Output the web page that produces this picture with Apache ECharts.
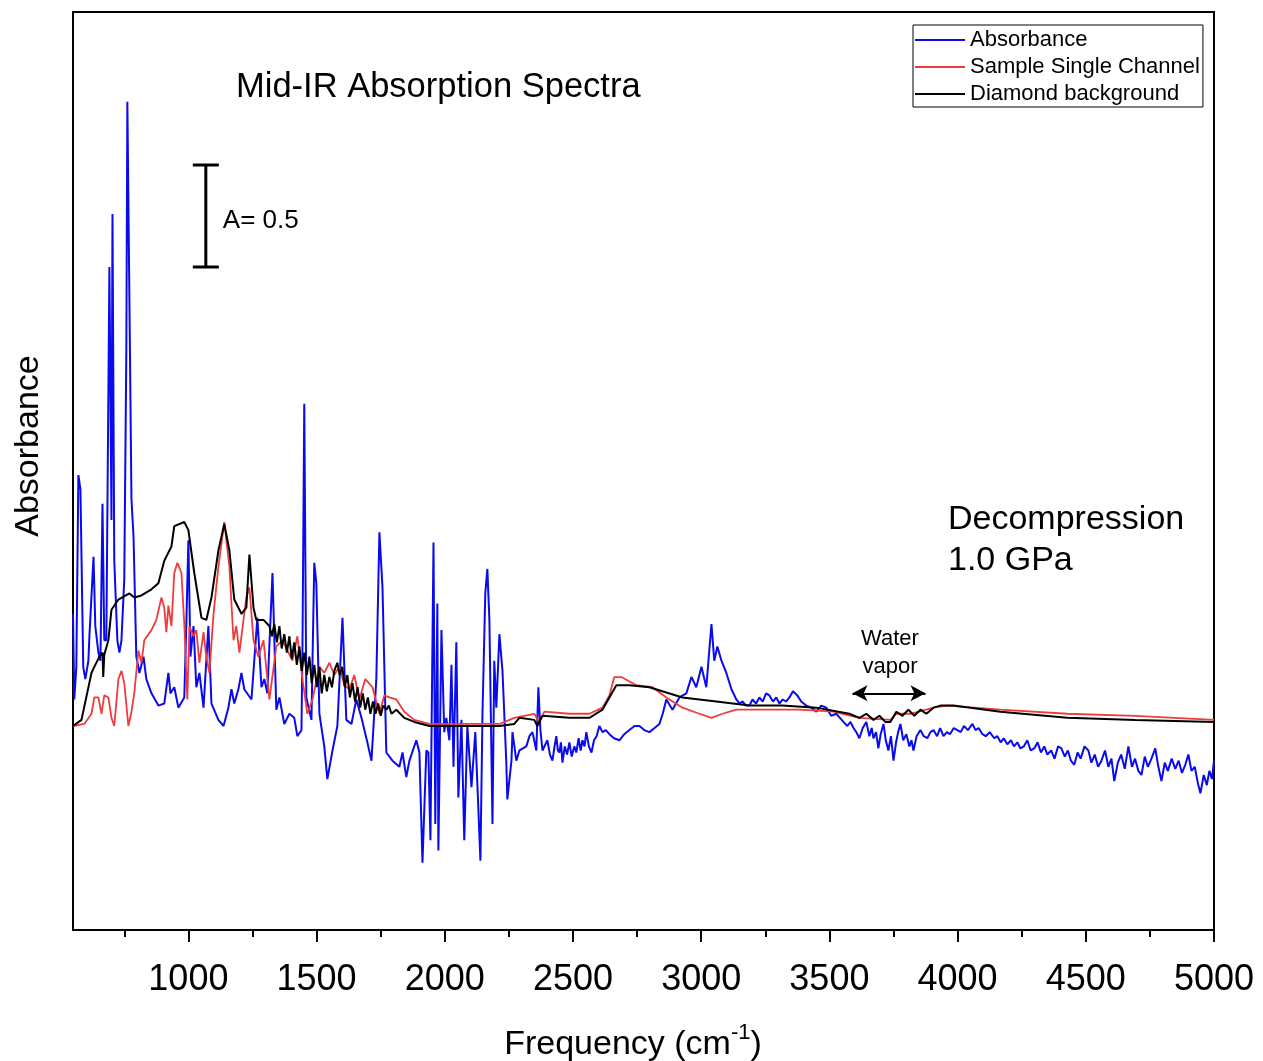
<!DOCTYPE html>
<html>
<head>
<meta charset="utf-8">
<script src="https://cdn.jsdelivr.net/npm/echarts@6/dist/echarts.min.js"></script>
<style>
html,body{margin:0;padding:0;background:#fff;}
#chart{width:1263px;height:1061px;}
</style>
</head>
<body>
<div id="chart"></div>
<script>
// ---- data (frequency cm^-1, absorbance) ----
var absorbance = [[550,1.55],[555,1.13],[563,1.29],[571,2.23],[579,2.16],[590,1.29],[598,1.23],[610,1.32],[614,1.44],[630,1.83],[637,1.49],[649,1.36],[657,1.32],[665,2.09],[672,1.42],[680,1.42],[692,3.25],[700,2.01],[704,3.51],[711,1.81],[723,1.42],[731,1.36],[739,1.42],[750,1.72],[758,2.84],[762,4.06],[770,3.09],[778,2.11],[786,1.93],[797,1.34],[809,1.26],[825,1.34],[836,1.23],[856,1.16],[883,1.10],[906,1.11],[922,1.26],[930,1.16],[945,1.19],[961,1.09],[984,1.14],[992,1.50],[1000,1.91],[1008,1.34],[1020,1.49],[1031,1.19],[1043,1.26],[1059,1.09],[1078,1.49],[1090,1.11],[1117,1.03],[1137,1.00],[1156,1.09],[1168,1.18],[1179,1.11],[1195,1.18],[1207,1.26],[1218,1.18],[1246,1.13],[1269,1.53],[1285,1.19],[1296,1.23],[1308,1.16],[1328,1.75],[1343,1.08],[1355,1.14],[1374,1.01],[1394,1.06],[1413,1.04],[1425,0.95],[1441,0.98],[1445,1.39],[1452,2.58],[1460,1.14],[1480,1.03],[1491,1.80],[1499,1.70],[1511,1.06],[1530,0.90],[1542,0.74],[1562,0.88],[1581,1.00],[1601,1.53],[1616,1.03],[1636,1.01],[1655,1.13],[1675,1.04],[1698,0.92],[1714,0.83],[1733,1.23],[1745,1.95],[1757,1.68],[1772,0.87],[1796,0.83],[1823,0.80],[1835,0.87],[1850,0.75],[1862,0.83],[1889,0.93],[1901,0.87],[1913,0.33],[1928,0.88],[1936,0.87],[1944,0.44],[1956,1.90],[1963,0.52],[1971,1.60],[1975,0.39],[1987,1.47],[1998,0.97],[2006,1.04],[2018,0.93],[2026,1.30],[2034,0.80],[2045,1.41],[2053,0.65],[2065,1.03],[2076,0.44],[2088,1.00],[2104,0.70],[2119,0.97],[2139,0.34],[2147,1.06],[2158,1.65],[2166,1.77],[2174,1.52],[2186,0.52],[2193,1.32],[2201,1.09],[2213,1.45],[2225,1.27],[2232,1.27],[2240,0.82],[2244,0.64],[2260,0.83],[2264,0.97],[2279,0.83],[2291,0.88],[2318,0.90],[2330,0.95],[2342,0.97],[2357,0.88],[2365,1.19],[2373,0.98],[2381,0.88],[2400,0.93],[2410,0.86],[2420,0.83],[2428,0.90],[2435,0.95],[2441,0.88],[2447,0.87],[2453,0.92],[2459,0.82],[2468,0.90],[2477,0.86],[2486,0.92],[2495,0.85],[2505,0.90],[2513,0.87],[2522,0.94],[2530,0.88],[2537,0.93],[2545,0.90],[2552,0.97],[2562,0.90],[2572,0.87],[2582,0.93],[2592,0.95],[2603,1.00],[2615,0.97],[2628,0.98],[2642,0.96],[2660,0.94],[2681,0.93],[2700,0.96],[2720,0.98],[2740,1.00],[2759,1.00],[2778,0.98],[2798,0.97],[2818,0.99],[2837,1.01],[2850,1.06],[2864,1.13],[2888,1.08],[2915,1.14],[2942,1.16],[2962,1.24],[2981,1.19],[3001,1.29],[3020,1.19],[3040,1.50],[3051,1.32],[3063,1.39],[3079,1.32],[3098,1.26],[3118,1.18],[3137,1.13],[3150,1.11],[3161,1.12],[3175,1.10],[3188,1.10],[3200,1.13],[3214,1.11],[3227,1.14],[3240,1.12],[3253,1.16],[3266,1.15],[3280,1.12],[3293,1.14],[3305,1.11],[3318,1.13],[3331,1.12],[3344,1.14],[3358,1.17],[3375,1.15],[3390,1.12],[3410,1.10],[3430,1.09],[3449,1.07],[3468,1.10],[3488,1.09],[3507,1.05],[3527,1.06],[3541,1.04],[3555,1.02],[3570,1.00],[3582,1.02],[3594,0.99],[3605,0.97],[3617,0.94],[3630,0.99],[3644,1.02],[3656,0.95],[3665,0.99],[3672,0.94],[3682,0.97],[3691,0.89],[3700,0.96],[3711,1.01],[3720,0.93],[3730,0.88],[3740,0.95],[3750,0.83],[3760,0.92],[3768,0.97],[3777,1.01],[3788,0.93],[3800,0.96],[3812,0.90],[3820,0.93],[3828,0.88],[3840,0.95],[3855,0.98],[3868,0.95],[3882,0.94],[3894,0.97],[3906,0.98],[3920,0.95],[3932,0.99],[3945,0.95],[3958,0.97],[3970,0.96],[3985,0.99],[3999,0.98],[4012,0.97],[4025,1.00],[4040,0.98],[4058,1.01],[4070,0.98],[4082,0.99],[4097,0.96],[4110,0.95],[4125,0.97],[4143,0.94],[4155,0.95],[4168,0.92],[4180,0.94],[4194,0.91],[4208,0.93],[4220,0.90],[4233,0.92],[4245,0.89],[4258,0.90],[4272,0.93],[4285,0.88],[4299,0.89],[4312,0.92],[4325,0.87],[4338,0.90],[4350,0.86],[4365,0.88],[4378,0.84],[4392,0.90],[4405,0.89],[4418,0.85],[4430,0.88],[4442,0.83],[4455,0.81],[4468,0.87],[4480,0.84],[4495,0.90],[4510,0.88],[4522,0.82],[4535,0.86],[4548,0.80],[4561,0.83],[4575,0.88],[4588,0.80],[4600,0.84],[4611,0.73],[4625,0.82],[4638,0.86],[4652,0.79],[4666,0.90],[4680,0.80],[4692,0.84],[4705,0.78],[4717,0.76],[4730,0.85],[4742,0.80],[4756,0.84],[4771,0.89],[4783,0.80],[4795,0.73],[4808,0.82],[4820,0.78],[4835,0.84],[4849,0.79],[4862,0.83],[4875,0.77],[4888,0.81],[4900,0.86],[4912,0.78],[4925,0.80],[4937,0.72],[4947,0.67],[4960,0.76],[4972,0.71],[4982,0.78],[4992,0.74],[5000,0.83]];

var sampleSingleChannel = [[550,1.00],[594,1.01],[622,1.06],[633,1.14],[649,1.14],[661,1.06],[672,1.15],[688,1.14],[700,1.04],[711,1.00],[727,1.23],[739,1.27],[750,1.21],[766,1.00],[778,1.07],[789,1.16],[805,1.37],[817,1.31],[828,1.42],[856,1.47],[875,1.52],[895,1.63],[906,1.58],[914,1.46],[922,1.59],[934,1.49],[945,1.75],[957,1.80],[973,1.75],[984,1.50],[996,1.13],[1004,1.49],[1020,1.44],[1031,1.47],[1043,1.31],[1059,1.46],[1070,1.34],[1082,1.26],[1098,1.55],[1117,1.78],[1140,2.00],[1160,1.78],[1176,1.42],[1187,1.49],[1199,1.36],[1215,1.52],[1226,1.63],[1238,1.68],[1254,1.42],[1273,1.34],[1293,1.42],[1316,1.13],[1343,1.39],[1367,1.42],[1406,1.32],[1425,1.44],[1445,1.23],[1464,1.06],[1484,1.13],[1511,1.29],[1530,1.26],[1550,1.31],[1569,1.25],[1589,1.29],[1608,1.20],[1628,1.18],[1647,1.25],[1667,1.13],[1690,1.23],[1718,1.19],[1745,1.06],[1764,1.15],[1784,1.14],[1811,1.13],[1842,1.07],[1881,1.03],[1940,1.01],[2213,1.01],[2271,1.04],[2349,1.06],[2369,1.02],[2388,1.07],[2486,1.06],[2564,1.06],[2615,1.09],[2642,1.15],[2661,1.24],[2689,1.24],[2747,1.20],[2810,1.19],[2864,1.14],[2927,1.09],[2993,1.06],[3040,1.04],[3083,1.06],[3137,1.08],[3254,1.08],[3383,1.08],[3516,1.07],[3617,1.04],[3738,1.03],[3761,1.06],[3816,1.06],[3906,1.09],[3960,1.10],[4167,1.08],[4428,1.06],[4693,1.05],[5000,1.03]];

var diamondBackground = [[550,1.00],[583,1.03],[622,1.26],[633,1.29],[653,1.34],[665,1.36],[668,1.24],[672,1.35],[688,1.42],[700,1.57],[727,1.62],[770,1.65],[789,1.63],[817,1.64],[856,1.67],[883,1.70],[906,1.81],[934,1.88],[945,1.98],[984,2.00],[1000,1.96],[1023,1.75],[1051,1.53],[1070,1.52],[1090,1.63],[1117,1.86],[1140,1.99],[1160,1.86],[1179,1.62],[1207,1.55],[1226,1.58],[1238,1.84],[1254,1.58],[1265,1.52],[1293,1.52],[1316,1.49],[1326,1.44],[1335,1.50],[1345,1.41],[1355,1.49],[1364,1.38],[1374,1.45],[1384,1.36],[1394,1.44],[1403,1.33],[1413,1.41],[1423,1.30],[1433,1.39],[1442,1.27],[1452,1.36],[1462,1.25],[1472,1.34],[1481,1.21],[1491,1.30],[1501,1.19],[1511,1.29],[1520,1.16],[1530,1.25],[1540,1.17],[1550,1.24],[1560,1.19],[1569,1.27],[1581,1.31],[1590,1.25],[1600,1.29],[1610,1.19],[1620,1.25],[1630,1.14],[1640,1.21],[1650,1.12],[1660,1.19],[1670,1.09],[1680,1.16],[1690,1.08],[1700,1.14],[1710,1.06],[1720,1.12],[1730,1.06],[1740,1.11],[1750,1.05],[1760,1.10],[1772,1.08],[1782,1.10],[1792,1.06],[1811,1.08],[1842,1.04],[1881,1.02],[1940,1.00],[2018,1.00],[2213,1.00],[2271,1.01],[2291,1.04],[2349,1.03],[2361,1.00],[2381,1.05],[2486,1.04],[2564,1.04],[2615,1.08],[2642,1.14],[2669,1.20],[2720,1.20],[2798,1.19],[2927,1.14],[3059,1.12],[3188,1.10],[3317,1.10],[3449,1.09],[3578,1.06],[3617,1.04],[3644,1.06],[3672,1.03],[3695,1.05],[3718,1.02],[3738,1.02],[3761,1.07],[3785,1.05],[3808,1.08],[3831,1.05],[3855,1.08],[3878,1.06],[3906,1.09],[3933,1.10],[3984,1.10],[4167,1.07],[4428,1.04],[4693,1.03],[5000,1.02]];

var xMajorTicks = [1000,1500,2000,2500,3000,3500,4000,4500,5000];
var xMinorTicks = [750,1250,1750,2250,2750,3250,3750,4250,4750];
var xRange = [550, 5000];
var yRange = [0, 4.5];
var scaleBar = {freq: 1068, from: 3.25, to: 3.75, label: 'A= 0.5'};
var waterVapor = {from: 3590, to: 3875, level: 1.16};

var FONT = 'Liberation Sans, Arial, Helvetica, sans-serif';
var chart = echarts.init(document.getElementById('chart'));

var option = {
  animation: false,
  backgroundColor: '#fff',
  textStyle: {fontFamily: FONT},
  grid: {left: 73, right: 49, top: 12, bottom: 131, show: true, borderColor: '#000', borderWidth: 2, containLabel: false},
  legend: {
    orient: 'vertical', left: 913, top: 25,
    padding: [4, 3, 2, 2], itemGap: 5, itemWidth: 50, itemHeight: 2, icon: 'rect',
    borderColor: '#000', borderWidth: 1, backgroundColor: '#fff',
    textStyle: {fontSize: 22, color: '#000', fontFamily: FONT},
    data: ['Absorbance', 'Sample Single Channel', 'Diamond background']
  },
  xAxis: [{
    type: 'value', min: xRange[0], max: xRange[1],
    axisLine: {show: true, lineStyle: {color: '#000', width: 2}},
    axisTick: {show: true, inside: false, length: 12, lineStyle: {color: '#000', width: 2}, customValues: xMajorTicks},
    axisLabel: {show: true, fontSize: 36, color: '#000', fontFamily: FONT, margin: 32, customValues: xMajorTicks,
      formatter: function (v) { return String(v); }},
    splitLine: {show: false}
  }, {
    type: 'value', min: xRange[0], max: xRange[1], position: 'bottom',
    axisLine: {show: false},
    axisTick: {show: true, inside: false, length: 7, lineStyle: {color: '#000', width: 2}, customValues: xMinorTicks},
    axisLabel: {show: false},
    splitLine: {show: false}
  }],
  yAxis: {
    type: 'value', min: yRange[0], max: yRange[1],
    axisLine: {show: true, lineStyle: {color: '#000', width: 2}},
    axisTick: {show: false}, axisLabel: {show: false}, splitLine: {show: false}
  },
  series: [{
    name: 'Absorbance', type: 'line', data: absorbance, symbol: 'none',
    lineStyle: {color: '#0a0aee', width: 2}, itemStyle: {color: '#0a0aee'}
  }, {
    name: 'Sample Single Channel', type: 'line', data: sampleSingleChannel, symbol: 'none',
    lineStyle: {color: '#ee3c3c', width: 1.8}, itemStyle: {color: '#ee3c3c'}
  }, {
    name: 'Diamond background', type: 'line', data: diamondBackground, symbol: 'none',
    lineStyle: {color: '#000', width: 2}, itemStyle: {color: '#000'},
    markLine: {
      silent: true, symbol: ['arrow', 'arrow'], symbolSize: [12, 15],
      label: {show: false}, lineStyle: {color: '#000', width: 2, type: 'solid'},
      data: [[{coord: [waterVapor.from, waterVapor.level]}, {coord: [waterVapor.to, waterVapor.level]}]]
    }
  }]
};
chart.setOption(option);

var barTop = chart.convertToPixel({gridIndex: 0}, [scaleBar.freq, scaleBar.to]);
var barBot = chart.convertToPixel({gridIndex: 0}, [scaleBar.freq, scaleBar.from]);
var barMid = (barTop[1] + barBot[1]) / 2;

function txt(text, x, y, size, align) {
  return {type: 'text', x: x, y: y, z: 100,
    style: {text: text, fontSize: size, fontFamily: FONT, fill: '#000', align: align || 'left', verticalAlign: 'middle'}};
}

chart.setOption({
  graphic: [
    {type: 'line', z: 100, shape: {x1: barTop[0], y1: barTop[1], x2: barBot[0], y2: barBot[1]}, style: {stroke: '#000', lineWidth: 3}},
    {type: 'line', z: 100, shape: {x1: barTop[0] - 13, y1: barTop[1], x2: barTop[0] + 13, y2: barTop[1]}, style: {stroke: '#000', lineWidth: 3}},
    {type: 'line', z: 100, shape: {x1: barBot[0] - 13, y1: barBot[1], x2: barBot[0] + 13, y2: barBot[1]}, style: {stroke: '#000', lineWidth: 3}},
    txt(scaleBar.label, barTop[0] + 17, barMid + 5, 26),
    txt('Mid-IR Absorption Spectra', 236, 87, 34.5),
    txt('Decompression', 948, 520, 34),
    txt('1.0 GPa', 948, 561, 34),
    txt('Water', 890, 639, 22, 'center'),
    txt('vapor', 890, 667, 22, 'center'),
    {type: 'text', x: 29, y: 446, rotation: Math.PI / 2, z: 100,
      style: {text: 'Absorbance', fontSize: 34, fontFamily: FONT, fill: '#000', align: 'center', verticalAlign: 'middle'}},
    {type: 'text', x: 633, y: 1042, z: 100,
      style: {text: '{a|Frequency (cm}{s|-1}{a|)}', fontFamily: FONT, fill: '#000', align: 'center', verticalAlign: 'middle',
        rich: {a: {fontSize: 34, fontFamily: FONT, lineHeight: 40, verticalAlign: 'bottom'},
               s: {fontSize: 22, fontFamily: FONT, lineHeight: 40, verticalAlign: 'top', padding: [0, 0, 12, 0]}}}}
  ]
});
</script>
</body>
</html>
